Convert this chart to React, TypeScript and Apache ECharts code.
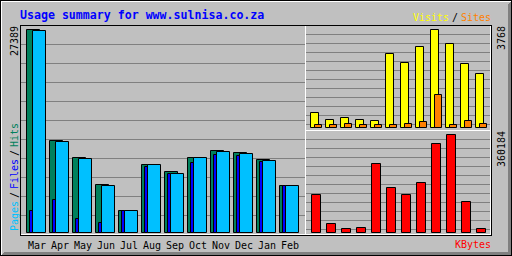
import React, { useEffect, useRef } from 'react';
import * as echarts from 'echarts';

const title = 'Usage summary for www.sulnisa.co.za';
const months = ['Mar', 'Apr', 'May', 'Jun', 'Jul', 'Aug', 'Sep', 'Oct', 'Nov', 'Dec', 'Jan', 'Feb'];
const hits = [27389, 12412, 10077, 6475, 2968, 9173, 8188, 10077, 11062, 10752, 9848, 6300];
const files = [2968, 4452, 1889, 1349, 2968, 8903, 7959, 9443, 10522, 10428, 9578, 6300];
const pages = [27250, 12277, 9942, 6340, 2968, 9173, 7959, 10077, 10887, 10617, 9673, 6300];
const visits = [577, 308, 385, 308, 269, 2845, 2499, 3114, 3768, 3230, 2461, 2076];
const sites = [104, 104, 142, 104, 104, 104, 154, 231, 1269, 104, 269, 154];
const kbytes = [140800, 33100, 14700, 18400, 253600, 165400, 139700, 183800, 327100, 360184, 113900, 14700];
const maxHits = 27389;
const maxVisits = 3768;
const maxKBytes = 360184;

const MONO = '"DejaVu Sans Mono", monospace';
const C_HIT = '#00805C';
const C_FILE = '#0000FF';
const C_PAGE = '#00C0FF';
const C_VISIT = '#FFFF00';
const C_SITE = '#FF8000';
const C_KB = '#FF0000';
const GREY = '#C0C0C0';
const DK = '#808080';
const WHITE = '#FFFFFF';
const BLACK = '#000000';

function hline(x1: number, x2: number, y: number, color: string, z = 0) {
  return { type: 'line', silent: true, z, shape: { x1, y1: y + 0.5, x2: x2 + 1, y2: y + 0.5 }, style: { stroke: color, lineWidth: 1 } };
}
function vline(x: number, y1: number, y2: number, color: string, z = 0) {
  return { type: 'line', silent: true, z, shape: { x1: x + 0.5, y1, x2: x + 0.5, y2: y2 + 1 }, style: { stroke: color, lineWidth: 1 } };
}
function txt(text: string, x: number, y: number, color: string, opts: any = {}) {
  return {
    type: 'text', silent: true, z: 10, x, y, rotation: opts.rotation || 0,
    style: {
      text, fill: color, fontFamily: MONO, fontSize: opts.fontSize || 10,
      fontWeight: opts.bold ? 'bold' : 'normal', align: opts.align || 'left', verticalAlign: 'middle',
    },
  };
}
const UP = Math.PI / 2;

function barRenderer(specs: { dim: number; color: string; off: number; w: number }[]) {
  return (params: any, api: any) => {
    const i = api.value(0);
    const base = api.coord([i, 0]);
    const bx = Math.round(base[0]);
    const by = Math.round(base[1]);
    const children: any[] = [];
    for (const s of specs) {
      const v = api.value(s.dim);
      if (!(v > 0)) continue;
      const top = api.coord([i, v]);
      const y1 = Math.round(top[1]);
      children.push({
        type: 'rect',
        shape: { x: bx + s.off + 0.5, y: y1 + 0.5, width: s.w, height: by - y1 },
        style: { fill: s.color, stroke: BLACK, lineWidth: 1 },
      });
    }
    return { type: 'group', children };
  };
}

export default function App() {
  const ref = useRef<HTMLDivElement>(null);
  useEffect(() => {
    const chart = echarts.init(ref.current!, null, { renderer: 'svg' });
    const g: any[] = [];
    // outer frame
    g.push(hline(0, 511, 0, BLACK), vline(0, 0, 255, BLACK), hline(0, 511, 255, BLACK), vline(511, 0, 255, BLACK));
    g.push(hline(1, 510, 1, WHITE), vline(1, 1, 254, WHITE));
    for (let i = 2; i < 5; i++) {
      g.push(hline(i, 510, 256 - i, DK), vline(512 - i, i, 254, DK));
    }
    // inner box
    g.push(hline(20, 491, 25, BLACK), vline(20, 25, 235, BLACK), hline(20, 491, 235, BLACK), vline(491, 25, 235, BLACK));
    g.push(hline(21, 490, 234, WHITE), vline(490, 26, 234, WHITE));
    g.push(vline(305, 26, 234, WHITE), hline(306, 489, 130, WHITE));
    // grid lines
    for (let i = 1; i <= 10; i++) g.push(hline(21, 304, 25 + 19 * i, DK));
    for (let i = 1; i <= 11; i++) {
      g.push(hline(306, 489, 25 + 9 * i, DK));
      g.push(hline(306, 489, 130 + 9 * i, DK));
    }
    // texts
    g.push(txt(title, 20, 15, C_FILE, { bold: true, fontSize: 11.6 }));
    g.push(txt('Visits', 413, 17, C_VISIT));
    g.push(txt('/', 452, 17, BLACK));
    g.push(txt('Sites', 461, 17, C_SITE));
    g.push(txt('KBytes', 455, 244.5, C_KB));
    g.push(txt(String(maxHits), 14.5, 56, BLACK, { rotation: UP }));
    g.push(txt(String(maxVisits), 501, 50, BLACK, { rotation: UP }));
    g.push(txt(String(maxKBytes), 501, 167, BLACK, { rotation: UP }));
    g.push(txt('Pages', 14.5, 231, C_PAGE, { rotation: UP }));
    g.push(txt('/', 14.5, 198, BLACK, { rotation: UP }));
    g.push(txt('Files', 14.5, 189, C_FILE, { rotation: UP }));
    g.push(txt('/', 14.5, 156, BLACK, { rotation: UP }));
    g.push(txt('Hits', 14.5, 147, C_HIT, { rotation: UP }));

    const hidden = { show: false };
    const option: any = {
      animation: false,
      backgroundColor: GREY,
      grid: [
        { left: 26, top: 29, width: 276, height: 203 },
        { left: 310, top: 29, width: 180, height: 98 },
        { left: 310, top: 134, width: 180, height: 98 },
      ],
      xAxis: [
        {
          gridIndex: 0, type: 'value', min: 0, max: 12, interval: 1,
          axisLine: hidden, axisTick: hidden, splitLine: hidden,
          axisLabel: {
            show: true, formatter: (v: number) => months[v] ?? '', align: 'left', verticalAlign: 'middle',
            padding: [0, 0, 0, 2], margin: 13, color: BLACK, fontFamily: MONO, fontSize: 10,
            showMinLabel: true, showMaxLabel: true, hideOverlap: false,
          },
        },
        { gridIndex: 1, type: 'value', min: 0, max: 12, show: false },
        { gridIndex: 2, type: 'value', min: 0, max: 12, show: false },
      ],
      yAxis: [
        { gridIndex: 0, type: 'value', min: 0, max: maxHits, show: false },
        { gridIndex: 1, type: 'value', min: 0, max: maxVisits, show: false },
        { gridIndex: 2, type: 'value', min: 0, max: maxKBytes, show: false },
      ],
      series: [
        {
          type: 'custom', xAxisIndex: 0, yAxisIndex: 0, z: 2,
          renderItem: barRenderer([
            { dim: 1, color: C_HIT, off: 0, w: 13 },
            { dim: 2, color: C_FILE, off: 3, w: 13 },
            { dim: 3, color: C_PAGE, off: 6, w: 13 },
          ]),
          data: months.map((_, i) => [i, hits[i], files[i], pages[i]]),
        },
        {
          type: 'custom', xAxisIndex: 1, yAxisIndex: 1, z: 2,
          renderItem: barRenderer([
            { dim: 1, color: C_VISIT, off: 0, w: 8 },
            { dim: 2, color: C_SITE, off: 4, w: 7 },
          ]),
          data: months.map((_, i) => [i, visits[i], sites[i]]),
        },
        {
          type: 'custom', xAxisIndex: 2, yAxisIndex: 2, z: 2,
          renderItem: barRenderer([{ dim: 1, color: C_KB, off: 1, w: 9 }]),
          data: months.map((_, i) => [i, kbytes[i]]),
        },
      ],
      graphic: g,
    };
    chart.setOption(option);
    return () => chart.dispose();
  }, []);
  return <div ref={ref} style={{ position: 'fixed', left: 0, top: 0, width: 512, height: 256 }} />;
}
